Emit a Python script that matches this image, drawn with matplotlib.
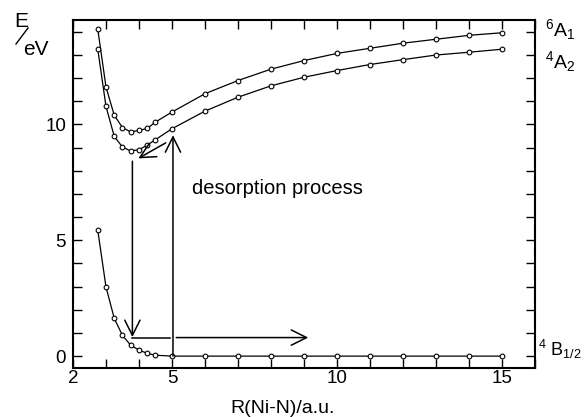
import matplotlib
matplotlib.use('Agg')
import matplotlib.pyplot as plt
from matplotlib.lines import Line2D
import numpy as np

plt.rcParams['font.family'] = ['Liberation Sans', 'DejaVu Sans']
plt.rcParams['mathtext.fontset'] = 'custom'
plt.rcParams['mathtext.rm'] = 'Liberation Sans'
plt.rcParams['mathtext.default'] = 'rm'

# Ni-N distance grid (a.u.)
r = [2.75, 3.0, 3.25, 3.5, 3.75, 4.0, 4.25, 4.5, 5, 6, 7, 8, 9, 10, 11, 12, 13, 14, 15]

# potential energy curves (eV)
e_6a1 = [14.11, 11.61, 10.39, 9.86, 9.67, 9.74, 9.82, 10.10, 10.53, 11.32,
         11.89, 12.38, 12.75, 13.06, 13.28, 13.50, 13.67, 13.84, 13.95]
e_4a2 = [13.25, 10.77, 9.48, 9.02, 8.85, 8.91, 9.10, 9.34, 9.81, 10.57,
         11.17, 11.66, 12.03, 12.32, 12.58, 12.79, 12.99, 13.11, 13.24]
e_4b = [5.44, 2.98, 1.63, 0.89, 0.47, 0.26, 0.12, 0.04, 0.0, 0.0,
        0.0, 0.0, 0.0, 0.0, 0.0, 0.0, 0.0, 0.0, 0.0]

state_labels = [r'$^{6}$A$_{1}$', r'$^{4}$A$_{2}$', r'$^{4}$ B$_{1/2}$']
label_x = [16.3, 16.3, 16.1]
label_y = [14.1, 12.7, 0.3]
label_size = [14, 14, 13]

fig = plt.figure(figsize=(5.84, 4.17), dpi=100)
ax = fig.add_axes([0.125, 0.1182, 0.791, 0.8338])

for e in (e_6a1, e_4a2, e_4b):
    ax.plot(r, e, color='black', lw=0.9, marker='o', ms=3.4, mfc='white',
            mec='black', mew=0.8, zorder=3)

ax.set_xlim(2, 16)
ax.set_ylim(-0.5, 14.5)
ax.set_xticks([2, 5, 10, 15])
ax.set_xticks(np.arange(2, 17, 1), minor=True)
ax.set_yticks([0, 5, 10])
ax.set_yticks(np.arange(0, 15, 1), minor=True)
ax.tick_params(which='both', direction='in', length=6.3, width=1,
               top=True, right=True, labelsize=13.5)
ax.tick_params(axis='x', pad=1.5)
ax.tick_params(axis='y', pad=5)
for s in ax.spines.values():
    s.set_linewidth(1.5)

# transitions
head = dict(arrowstyle='->,head_length=1.1,head_width=0.55', mutation_scale=10,
            color='black', lw=1.1, shrinkA=0, shrinkB=0)
ax.annotate('', xy=(3.8, 0.82), xytext=(3.8, 8.41), arrowprops=head)
ax.plot([3.8, 4.93], [0.8, 0.8], color='black', lw=1.1)
ax.annotate('', xy=(9.13, 0.8), xytext=(5.13, 0.8), arrowprops=head)
ax.annotate('', xy=(5.03, 9.53), xytext=(5.03, 0.0), arrowprops=head)
ax.annotate('', xy=(3.98, 8.53), xytext=(4.81, 9.2), arrowprops=head)

ax.text(5.6, 6.99, 'desorption process', fontsize=14.5, va='baseline')

for lab, x, y, fs in zip(state_labels, label_x, label_y, label_size):
    ax.text(x, y, lab, fontsize=fs, va='center', ha='left')

# axis titles
fig.text(14 / 584, 1 - 27 / 417, 'E', fontsize=15, va='baseline')
fig.text(23 / 584, 1 - 55 / 417, 'eV', fontsize=15, va='baseline')
fig.add_artist(Line2D([16 / 584, 28 / 584], [1 - 44 / 417, 1 - 28 / 417],
                      color='black', lw=1))
fig.text(282.5 / 584, 1 - 413 / 417, 'R(Ni-N)/a.u.', fontsize=14,
         ha='center', va='baseline')

fig.savefig('out.png', dpi=100)
